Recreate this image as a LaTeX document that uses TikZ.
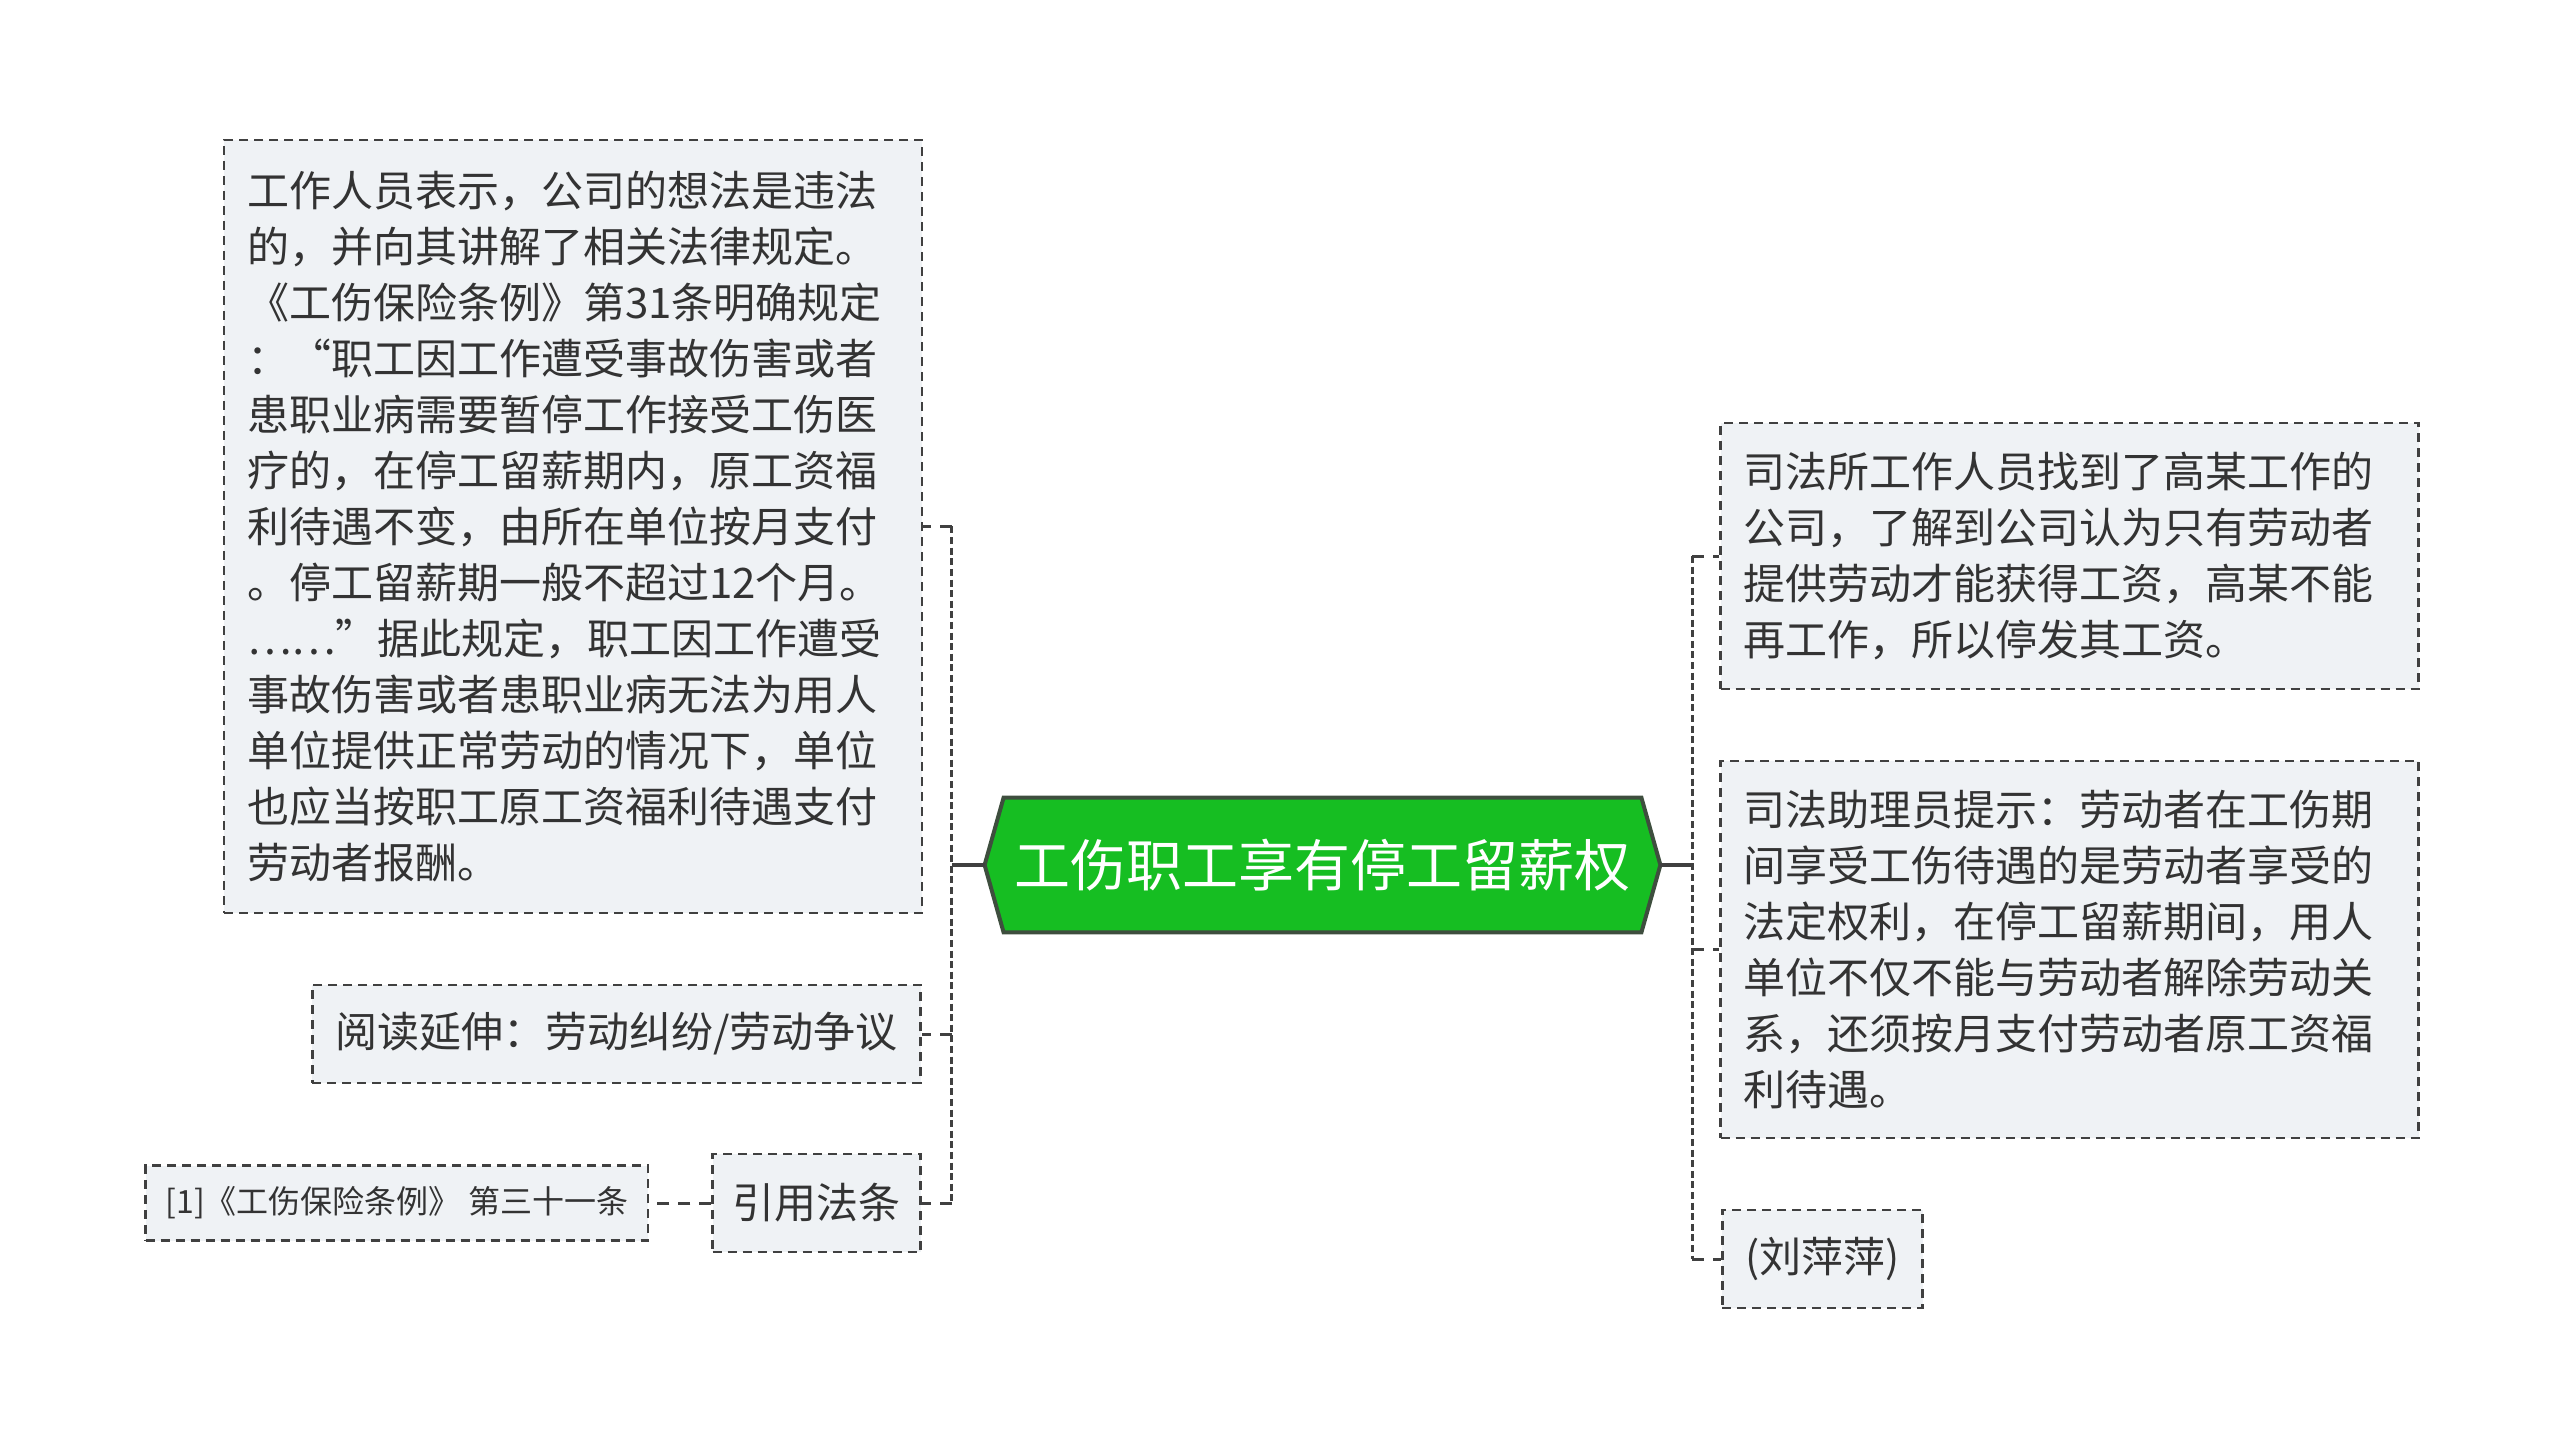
\documentclass[tikz,border=0pt]{standalone}
\usepackage{fontspec}
\newfontfamily\cjkfont{Noto Sans CJK SC}
\usetikzlibrary{positioning,backgrounds}
\definecolor{hubgreen}{RGB}{22,190,34}
\definecolor{hubline}{RGB}{62,78,62}
\definecolor{leaffill}{RGB}{239,242,245}
\definecolor{inkgray}{RGB}{51,51,51}
\definecolor{wiregray}{RGB}{64,64,64}

\begin{document}
\begin{tikzpicture}[
        %Environment config
        x=0.5pt, y=-0.5pt,
        font=\cjkfont,
        %Environment styles
        LeafCfg/.style={
            draw=wiregray, fill=leaffill, text=inkgray,
            line width=1.3pt, dash pattern=on 4.5pt off 3pt,
            inner xsep=11.5pt, inner ysep=0pt,
            minimum height=49pt,
            font=\cjkfont\fontsize{21pt}{28pt}\selectfont
        },
        ParaCfg/.style={
            LeafCfg, text width=326pt, align=left, minimum height=#1
        },
        HubCfg/.style={
            text=white, inner sep=0pt,
            minimum width=337.5pt, minimum height=67pt,
            font=\cjkfont\fontsize{28pt}{34pt}\selectfont
        },
        WireCfg/.style={
            draw=wiregray, line width=1.8pt
        },
        TrunkWire/.style={
            WireCfg, dash pattern=on 3.5pt off 1.8pt
        },
        StubWire/.style={
            WireCfg, line width=1.5pt, dash pattern=on 6pt off 4.5pt
        }
    ]
    \useasboundingbox (0,0) rectangle (2560,1449);

    \path
        (1322.5,865) node[HubCfg](Hub){工伤职工享有停工留薪权}
        (573,526.5) node[ParaCfg=386.5pt](LawNote){工作人员表示，公司的想法是违法\\
            的，并向其讲解了相关法律规定。\\
            《工伤保险条例》第31条明确规定\\
            ：“职工因工作遭受事故伤害或者\\
            患职业病需要暂停工作接受工伤医\\
            疗的，在停工留薪期内，原工资福\\
            利待遇不变，由所在单位按月支付\\
            。停工留薪期一般不超过12个月。\\
            ……”据此规定，职工因工作遭受\\
            事故伤害或者患职业病无法为用人\\
            单位提供正常劳动的情况下，单位\\
            也应当按职工原工资福利待遇支付\\
            劳动者报酬。}
        (922,1034) node[LeafCfg, anchor=east](Reading){阅读延伸：劳动纠纷/劳动争议}
        (922,1203) node[LeafCfg, anchor=east, inner xsep=10pt](Cite){引用法条}
        (2069.5,556) node[ParaCfg=133pt](Office){司法所工作人员找到了高某工作的\\
            公司，了解到公司认为只有劳动者\\
            提供劳动才能获得工资，高某不能\\
            再工作，所以停发其工资。}
        (2069.5,949.5) node[ParaCfg=188.5pt](Advice){司法助理员提示：劳动者在工伤期\\
            间享受工伤待遇的是劳动者享受的\\
            法定权利，在停工留薪期间，用人\\
            单位不仅不能与劳动者解除劳动关\\
            系，还须按月支付劳动者原工资福\\
            利待遇。}
        (1721,1259) node[LeafCfg, anchor=west](Author){(刘萍萍)};
    \node[LeafCfg, minimum height=37.5pt, inner xsep=10pt,
        font=\cjkfont\fontsize{16pt}{20pt}\selectfont,
        left=31pt of Cite](Article){[1]《工伤保险条例》 第三十一条};

    % hexagon behind the title
    \begin{scope}[on background layer]
        \draw[line width=2pt, draw=hubline, fill=hubgreen]
            (Hub.west) -- ([xshift=9.5pt]Hub.north west)
            -- ([xshift=-9.5pt]Hub.north east) -- (Hub.east)
            -- ([xshift=-9.5pt]Hub.south east)
            -- ([xshift=9.5pt]Hub.south west) -- cycle;
    \end{scope}

    \coordinate (LJ) at ([xshift=-16.5pt]Hub.west);
    \coordinate (RJ) at ([xshift=16pt]Hub.east);

    \draw[WireCfg]
        (Hub.west) -- (LJ)
        (Hub.east) -- (RJ);
    % trunks
    \draw[TrunkWire]
        (LJ |- LawNote.east) -- (LJ |- Cite.east)
        (RJ |- Office.west) -- (RJ |- Author.west);
    % branches
    \draw[StubWire]
        (LJ |- LawNote.east) -- (LawNote.east)
        (LJ |- Reading.east) -- (Reading.east)
        (LJ |- Cite.east) -- (Cite.east)
        (RJ |- Office.west) -- (Office.west)
        (RJ |- Advice.west) -- (Advice.west)
        (RJ |- Author.west) -- (Author.west)
        (Cite.west) -- (Article.east);
\end{tikzpicture}
\end{document}
